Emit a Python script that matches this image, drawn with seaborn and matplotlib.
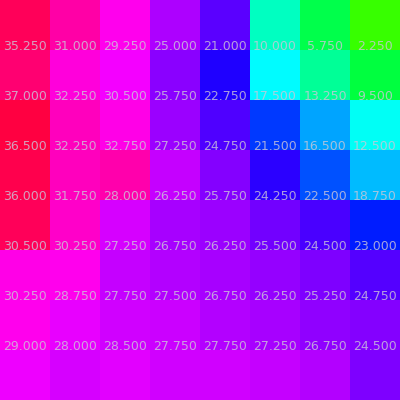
import numpy as np
import matplotlib
matplotlib.use('Agg')
import matplotlib.pyplot as plt
import seaborn as sns

# Valeurs de la grille 8x8 (la première ligne n'a pas d'étiquette visible)
row0 = [36.0, 33.0, 30.25, 26.5, 23.25, 7.5, 2.75, -2.25]
row1 = [35.25, 31.0, 29.25, 25.0, 21.0, 10.0, 5.75, 2.25]
row2 = [37.0, 32.25, 30.5, 25.75, 22.75, 17.5, 13.25, 9.5]
row3 = [36.5, 32.25, 32.75, 27.25, 24.75, 21.5, 16.5, 12.5]
row4 = [36.0, 31.75, 28.0, 26.25, 25.75, 24.25, 22.5, 18.75]
row5 = [30.5, 30.25, 27.25, 26.75, 26.25, 25.5, 24.5, 23.0]
row6 = [30.25, 28.75, 27.75, 27.5, 26.75, 26.25, 25.25, 24.75]
row7 = [29.0, 28.0, 28.5, 27.75, 27.75, 27.25, 26.75, 24.5]

data = np.array([row0, row1, row2, row3, row4, row5, row6, row7])

# Étiquettes : la ligne du haut ne montre rien
labels = np.array([[f'{v:.3f}' for v in row] for row in data])
labels[0, :] = ''

fig = plt.figure(figsize=(4, 4), dpi=100)
ax = fig.add_axes([0, 0, 1, 1])

sns.heatmap(data, cmap='hsv', vmin=-20, vmax=38.7, cbar=False,
            annot=labels, fmt='',
            annot_kws={'color': (0.8, 0.78, 0.85), 'alpha': 0.8, 'fontsize': 9},
            xticklabels=False, yticklabels=False, ax=ax)

# Les étiquettes sont posées sur le bord haut de chaque case
for t in ax.texts:
    x, y = t.get_position()
    t.set_position((x, y - 0.5))
    t.set_va('baseline')

ax.axis('off')
plt.savefig('out.png', dpi=100)
